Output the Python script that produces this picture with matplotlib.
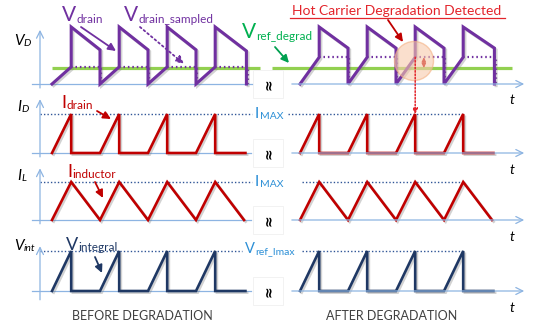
import matplotlib.pyplot as plt
import matplotlib.patheffects as pe
from matplotlib.patches import Circle, ConnectionPatch
import numpy as np

plt.rcParams['font.family'] = ['Lato', 'DejaVu Sans']

W, H = 536, 334
PX_T = 48.0          # pixels per switching period
nan = np.nan

# ---- waveforms (time in switching periods, values normalised) ----
vd_t = [0.25, 0.65, 0.65, 1.25, 1.25, 1.65, 1.65, 2.25, 2.25, 2.65, 2.65, 3.25, 3.25, 3.65, 3.65, 4.3, 4.3]
vd_before = [0, 0.30, 1.0, 0.60, 0, 0.30, 1.0, 0.60, 0, 0.30, 1.0, 0.60, 0, 0.30, 1.0, 0.58, 0]
vd_after = [0, 0.47, 1.0, 0.63, 0, 0.47, 1.0, 0.63, 0, 0.47, 1.0, 0.63, 0, 0.47, 1.0, 0.63, 0]

vs_t = [0.65, 1.28, 1.28, nan, 1.65, 2.28, 2.28, nan, 2.65, 3.28, 3.28, nan, 3.65, 4.33, 4.33]
vs_before = [0.30, 0.30, 0, nan, 0.30, 0.30, 0, nan, 0.30, 0.30, 0, nan, 0.30, 0.30, 0]
vs_after = [0.47, 0.47, 0, nan, 0.47, 0.47, 0, nan, 0.47, 0.47, 0, nan, 0.47, 0.47, 0]
v_ref_degrad = 0.28

id_t = [0.25, 0.65, 0.65, 1.25, 1.65, 1.65, 2.25, 2.65, 2.65, 3.25, 3.65, 3.65, 4.28]
id_v = [0, 1, 0, 0, 1, 0, 0, 1, 0, 0, 1, 0, 0]
i_max = 1.0

il_t = [0.25, 0.65, 1.25, 1.65, 2.25, 2.65, 3.25, 3.65, 4.25]
il_v = [0, 1, 0, 1, 0, 1, 0, 1, 0]

vi_t = [0.25, 0.65, 0.65, 1.25, 1.65, 1.65, 2.25, 2.65, 2.65, 3.25, 3.65, 3.65, 4.28]
vi_v = [0, 1, 0, 0, 1, 0, 0, 1, 0, 0, 1, 0, 0]
v_ref_imax = 1.0

# Colors
PURPLE = "#7030A0"
RED = "#C00000"
NAVY = "#1F3864"
GREEN = "#92D050"
GREEN_TXT = "#00B050"
AX_C = "#8DB4E2"
DOT_C = "#2F5597"
BLUE_TXT = "#2C8FD6"
HOT_RED = "#E3242B"

shadow = [pe.SimpleLineShadow(offset=(1.2, -1.2), shadow_color="gray", alpha=0.35), pe.Normal()]

fig = plt.figure(figsize=(W / 100, H / 100), dpi=100, facecolor="white")


def panel(x0, x1, y0, y1, origin, base, unit):
    ax = fig.add_axes([x0 / W, 1 - y1 / H, (x1 - x0) / W, (y1 - y0) / H])
    ax.set_xlim((x0 - origin) / PX_T, (x1 - origin) / PX_T)
    ax.set_ylim((base - y1) / unit, (base - y0) / unit)
    ax.axis("off")
    return ax


LEFT_O, RIGHT_O = 40, 288
rows = {"vd": (22, 92, 84, 57), "id": (92, 162, 153, 39),
        "il": (162, 230, 220, 38), "vi": (230, 302, 291, 40)}

axL, axR = {}, {}
for k, (y0, y1, base, unit) in rows.items():
    axL[k] = panel(0, 268, y0, y1, LEFT_O, base, unit)
    axR[k] = panel(268, 536, y0, y1, RIGHT_O, base, unit)

# axes lines
ytops = {"vd": (-0.07, 0.95), "id": (-0.1, 1.38), "il": (-0.1, 1.36), "vi": (-0.22, 1.12)}
for k in rows:
    a = axL[k]
    a.plot([-0.17, 4.58 if k == "vd" else 4.4], [0, 0], color=AX_C, lw=0.9, clip_on=False)
    a.annotate("", xy=(0, ytops[k][1]), xytext=(0, ytops[k][0]),
               arrowprops=dict(arrowstyle="->,head_length=0.5,head_width=0.25", color=AX_C, lw=0.9,
                               shrinkA=0, shrinkB=0))
    b = axR[k]
    b.annotate("", xy=(4.92, 0), xytext=(0.08, 0),
               arrowprops=dict(arrowstyle="->,head_length=0.5,head_width=0.25", color=AX_C, lw=0.9,
                               shrinkA=0, shrinkB=0))

dot_ls = (0, (1, 1.5))
# threshold lines
axL["vd"].plot([0.25, 4.58], [v_ref_degrad] * 2, color=GREEN, lw=2.3, solid_capstyle="butt", clip_on=False)
axR["vd"].plot([-0.33, 4.67], [v_ref_degrad] * 2, color=GREEN, lw=2.3, solid_capstyle="butt", clip_on=False)
axL["id"].plot([0, 4.42], [i_max] * 2, color=DOT_C, lw=1, ls=dot_ls)
axR["id"].plot([0, 3.65], [i_max] * 2, color=DOT_C, lw=1, ls=dot_ls)
axL["il"].plot([0, 4.42], [i_max] * 2, color=DOT_C, lw=1, ls=dot_ls)
axR["il"].plot([0.29, 3.65], [i_max] * 2, color=DOT_C, lw=1, ls=dot_ls)
axL["vi"].plot([0, 4.2], [v_ref_imax] * 2, color=DOT_C, lw=1, ls=dot_ls)
axR["vi"].plot([0.3, 3.65], [v_ref_imax] * 2, color=DOT_C, lw=1, ls=dot_ls)

# waveforms
for a, vd, vs in [(axL["vd"], vd_before, vs_before), (axR["vd"], vd_after, vs_after)]:
    a.plot(vs_t, vs, color=PURPLE, lw=1.6, ls=(0, (0.7, 1.3)), clip_on=False)
    a.plot(vd_t, vd, color=PURPLE, lw=2.2, solid_joinstyle="miter", path_effects=shadow, clip_on=False)
for side in (axL, axR):
    side["id"].plot(id_t, id_v, color=RED, lw=1.9, solid_joinstyle="miter", path_effects=shadow)
    side["il"].plot(il_t, il_v, color=RED, lw=1.9, solid_joinstyle="miter", path_effects=shadow)
    side["vi"].plot(vi_t, vi_v, color=NAVY, lw=1.9, solid_joinstyle="miter", path_effects=shadow)

# detection markers
axR["vd"].annotate("", xy=(2.83, vd_after[9]), xytext=(2.83, v_ref_degrad),
                   arrowprops=dict(arrowstyle="<|-|>,head_length=0.25,head_width=0.12", color=RED, lw=0.9,
                                   shrinkA=0, shrinkB=0))
con = ConnectionPatch(xyA=(2.65, vd_after[9]), coordsA="data", axesA=axR["vd"],
                      xyB=(2.65, i_max), coordsB="data", axesB=axR["id"],
                      arrowstyle="-|>,head_length=0.3,head_width=0.15", color=HOT_RED, lw=1.1,
                      ls=(0, (1, 1.2)), shrinkA=0, shrinkB=0)
fig.add_artist(con)

# ---- overlay for annotations (pixel coords) ----
ov = fig.add_axes([0, 0, 1, 1])
ov.set_xlim(0, W)
ov.set_ylim(H, 0)
ov.axis("off")
ov.patch.set_alpha(0)

ov.add_patch(Circle((414, 61), 19.5, facecolor="#F8CBAD", edgecolor="#F4B183", lw=1, alpha=0.6))


def sub_label(x, y, main, sub, color, size, subsize, style="normal"):
    t = ov.text(x, y, main, color=color, fontsize=size, style=style, ha="left", va="baseline")
    ov.annotate(sub, xy=(1, 0), xycoords=t, xytext=(0.2, 0), textcoords="offset points",
                color=color, fontsize=subsize, style=style, ha="left", va="bottom")


def arrow(x0, y0, x1, y1, color, ls="-"):
    ov.annotate("", xy=(x1, y1), xytext=(x0, y0),
                arrowprops=dict(arrowstyle="-|>,head_length=0.45,head_width=0.22", color=color, lw=1.3,
                                ls=ls, shrinkA=0, shrinkB=0))


# axis names
sub_label(14, 45, "V", "D", "black", 11, 7.5, "italic")
sub_label(17, 111, "I", "D", "black", 11, 7.5, "italic")
sub_label(17, 180, "I", "L", "black", 11, 7.5, "italic")
sub_label(14, 250, "V", "int", "black", 11, 7.5, "italic")

# signal labels
sub_label(62, 21, "V", "drain", PURPLE, 15, 8.5)
arrow(81, 27, 116, 51, PURPLE)
sub_label(124, 21, "V", "drain_sampled", PURPLE, 15, 8.5)
arrow(140, 27, 184, 64, PURPLE, ls=":")
sub_label(242, 38, "V", "ref_degrad", GREEN_TXT, 15, 8.5)
arrow(275, 47, 289, 63, "#00A050")
sub_label(61, 108, "I", "drain", RED, 13, 8.5)
arrow(97, 111, 111, 119, RED)
sub_label(67, 177, "I", "inductor", RED, 13, 8.5)
arrow(95, 182, 103, 198, RED)
sub_label(66, 250, "V", "integral", NAVY, 13, 8.5)
arrow(95, 257, 102, 273, NAVY)

for yb in (118, 186):
    sub_label(255, yb, "I", "MAX", BLUE_TXT, 11, 7.5)
sub_label(245, 253, "V", "ref_Imax", BLUE_TXT, 10.5, 7.5)

# hot carrier detection
ov.text(397, 15, "Hot Carrier Degradation Detected", color=HOT_RED, fontsize=10, ha="center", va="baseline")
ov.plot([290, 505], [18, 18], color=HOT_RED, lw=0.9)
arrow(388, 20, 403, 42, RED)

# break marks and time labels
for yb in (84, 153, 220, 291):
    ov.text(268, yb, "\u2248", rotation=90, ha="center", va="center", fontsize=10, fontweight="bold",
            family="DejaVu Sans",
            bbox=dict(boxstyle="square,pad=0.6", fc="white", ec="#F0F0F0", lw=0.6))
for yb in (100, 170, 237, 308):
    ov.text(512, yb, "t", style="italic", fontsize=10, ha="center", va="center", color="black")

ov.text(142, 320, "BEFORE DEGRADATION", color="#404040", fontsize=9, ha="center", va="baseline")
ov.text(392, 320, "AFTER DEGRADATION", color="#404040", fontsize=9, ha="center", va="baseline")

fig.savefig("out.png", dpi=100, facecolor="white")
